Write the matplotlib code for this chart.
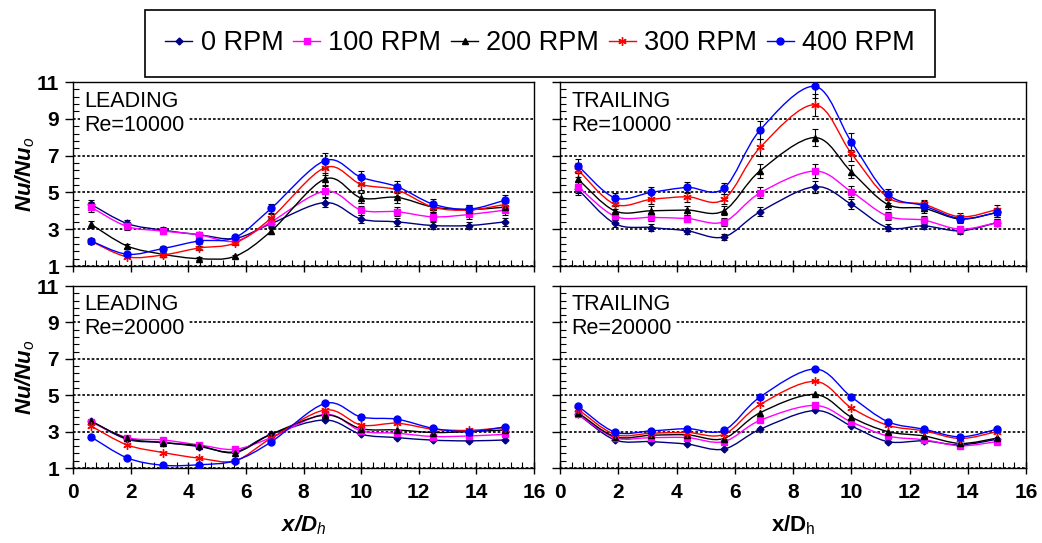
import numpy as np
import matplotlib
matplotlib.use('Agg')
import matplotlib.pyplot as plt
from matplotlib.path import Path
from matplotlib.patches import PathPatch
from matplotlib.lines import Line2D
from matplotlib.ticker import MultipleLocator, FixedLocator

plt.rcParams['font.family'] = ['Liberation Sans', 'DejaVu Sans']
plt.rcParams['mathtext.fontset'] = 'custom'
plt.rcParams['mathtext.rm'] = 'Liberation Sans'
plt.rcParams['mathtext.it'] = 'Liberation Sans:italic'
plt.rcParams['mathtext.bf'] = 'Liberation Sans:bold'

# x/Dh stations
x_dh = [0.625, 1.875, 3.125, 4.375, 5.625, 6.875, 8.75, 10.0, 11.25, 12.5, 13.75, 15.0]
speeds = ['0 RPM', '100 RPM', '200 RPM', '300 RPM', '400 RPM']

# Nu/Nuo, one row per rotation speed (0, 100, 200, 300, 400 RPM)
lead_10k = [
	[4.35, 3.31, 2.95, 2.70, 2.50, 3.30, 4.45, 3.55, 3.40, 3.20, 3.20, 3.40],
	[4.20, 3.15, 2.90, 2.70, 2.35, 3.40, 5.07, 4.04, 3.95, 3.67, 3.80, 4.04],
	[3.27, 2.09, 1.64, 1.40, 1.53, 2.89, 5.73, 4.70, 4.73, 4.20, 4.07, 4.20],
	[2.35, 1.50, 1.60, 1.98, 2.25, 3.60, 6.35, 5.44, 5.13, 4.20, 4.04, 4.35],
	[2.36, 1.64, 1.95, 2.36, 2.55, 4.13, 6.73, 5.82, 5.31, 4.36, 4.09, 4.58],
]
trail_10k = [
	[5.16, 3.31, 3.09, 2.91, 2.58, 3.95, 5.31, 4.36, 3.09, 3.18, 2.91, 3.36],
	[5.31, 3.71, 3.64, 3.58, 3.40, 4.98, 6.16, 5.04, 3.71, 3.49, 3.00, 3.36],
	[5.71, 4.00, 4.00, 4.04, 4.00, 6.18, 7.98, 6.13, 4.35, 4.13, 3.55, 3.91],
	[6.22, 4.36, 4.62, 4.76, 4.62, 7.45, 9.76, 7.13, 4.73, 4.35, 3.67, 4.07],
	[6.44, 4.71, 5.00, 5.27, 5.22, 8.40, 10.76, 7.76, 4.91, 4.27, 3.58, 3.91],
]
lead_20k = [
	[3.58, 2.58, 2.40, 2.18, 1.89, 2.85, 3.64, 2.85, 2.67, 2.53, 2.49, 2.54],
	[3.53, 2.67, 2.54, 2.27, 2.03, 2.67, 3.95, 3.04, 2.91, 2.73, 2.76, 2.85],
	[3.58, 2.63, 2.40, 2.22, 1.85, 2.85, 3.91, 3.16, 3.09, 2.95, 3.00, 3.09],
	[3.31, 2.27, 1.85, 1.54, 1.40, 2.63, 4.19, 3.36, 3.46, 3.13, 3.07, 3.22],
	[2.71, 1.56, 1.15, 1.18, 1.40, 2.43, 4.55, 3.80, 3.68, 3.18, 3.00, 3.26],
]
trail_20k = [
	[3.95, 2.55, 2.45, 2.31, 2.04, 3.13, 4.16, 3.31, 2.45, 2.49, 2.27, 2.58],
	[3.95, 2.67, 2.67, 2.67, 2.45, 3.62, 4.44, 3.53, 2.76, 2.55, 2.22, 2.45],
	[4.04, 2.73, 2.80, 2.82, 2.62, 4.04, 5.04, 3.80, 3.00, 2.76, 2.35, 2.64],
	[4.22, 2.85, 2.91, 2.95, 2.85, 4.49, 5.76, 4.31, 3.35, 3.04, 2.62, 3.00],
	[4.40, 2.98, 3.04, 3.16, 3.07, 4.91, 6.44, 4.91, 3.55, 3.13, 2.71, 3.13],
]
# measurement uncertainty shown on the Re=10000 panels
err_frac = 0.06

colors = ['#000080', '#ff00ff', '#000000', '#ff0000', '#0000ff']
markers = ['D', 's', '^', (6, 2, 0), 'o']
msizes = [3.5, 5, 5, 6, 5]

W, H = 1042, 543


def smooth_path(xs, ys):
	""" excel style smoothed line through the points """
	pts = list(zip(xs, ys))
	n = len(pts)
	verts = [pts[0]]
	codes = [Path.MOVETO]
	for i in range(n - 1):
		p0 = pts[max(i - 1, 0)]
		p1 = pts[i]
		p2 = pts[i + 1]
		p3 = pts[min(i + 2, n - 1)]
		c1 = (p1[0] + (p2[0] - p0[0]) / 6, p1[1] + (p2[1] - p0[1]) / 6)
		c2 = (p2[0] - (p3[0] - p1[0]) / 6, p2[1] - (p3[1] - p1[1]) / 6)
		verts += [c1, c2, p2]
		codes += [Path.CURVE4] * 3
	return Path(verts, codes)


def add_panel(fig, box, data, side, re, errbars, bottom_row, left_col):
	l, t, r, b = box
	ax = fig.add_axes([l / W, 1 - b / H, (r - l) / W, (b - t) / H])
	ax.set_xlim(0, 16)
	ax.set_ylim(1, 11)
	ax.set_xticks(range(0, 17, 2))
	ax.set_yticks(range(1, 12, 2))
	ax.xaxis.set_minor_locator(MultipleLocator(0.4))
	ax.yaxis.set_minor_locator(FixedLocator(np.arange(1, 11.01, 0.4)))
	ax.tick_params(axis='x', which='major', direction='inout', length=9, width=1, pad=6)
	ax.tick_params(axis='y', which='major', direction='out', length=6, width=1, pad=4)
	ax.tick_params(which='minor', direction='in', length=4, width=0.8)
	ax.tick_params(labelbottom=bottom_row, labelleft=left_col, labelsize=15)
	for lab in ax.get_xticklabels() + ax.get_yticklabels():
		lab.set_fontweight('bold')
	for sp in ax.spines.values():
		sp.set_linewidth(1.0)
	ax.yaxis.grid(True, which='major', color='black', linestyle=(0, (1.6, 1.2)), linewidth=1.2)

	for k in range(len(speeds)):
		ys = data[k]
		ax.add_patch(PathPatch(smooth_path(x_dh, ys), facecolor='none', edgecolor=colors[k],
			linewidth=1.0, zorder=2))
		if errbars:
			ax.errorbar(x_dh, ys, yerr=[v * err_frac for v in ys], fmt='none', ecolor='black',
				elinewidth=0.8, capsize=2, capthick=0.8, zorder=3)
		ax.plot(x_dh, ys, linestyle='none', marker=markers[k], markersize=msizes[k],
			color=colors[k], markeredgewidth=1.0, zorder=4)

	box_style = dict(facecolor='white', edgecolor='none', pad=3)
	ax.text(0.024, 0.866, side, transform=ax.transAxes, fontsize=15.5, va='baseline', bbox=box_style, zorder=5)
	ax.text(0.024, 0.735, 'Re=' + re, transform=ax.transAxes, fontsize=15.5, va='baseline', bbox=box_style, zorder=5)
	if left_col:
		ax.text(-0.104, 0.5, 'Nu/Nu$_o$', transform=ax.transAxes, rotation=90, ha='center', va='center',
			fontsize=16, fontweight='bold', style='italic')
	if bottom_row:
		if left_col:
			ax.text(0.5, -0.35, 'x/D$_h$', transform=ax.transAxes, ha='center', va='baseline',
				fontsize=16, fontweight='bold', style='italic')
		else:
			ax.text(0.5, -0.35, 'x/D$_\\mathrm{h}$', transform=ax.transAxes, ha='center', va='baseline',
				fontsize=16, fontweight='bold')
	return ax


def main():
	fig = plt.figure(figsize=(W / 100, H / 100), dpi=100)
	add_panel(fig, (73, 82, 534, 266), lead_10k, 'LEADING', '10000', True, False, True)
	add_panel(fig, (560, 82, 1026, 266), trail_10k, 'TRAILING', '10000', True, False, False)
	add_panel(fig, (73, 286, 534, 468), lead_20k, 'LEADING', '20000', False, True, True)
	add_panel(fig, (560, 286, 1026, 468), trail_20k, 'TRAILING', '20000', False, True, False)

	handles = [Line2D([], [], color=colors[k], marker=markers[k], markersize=msizes[k], linewidth=1.0)
		for k in range(len(speeds))]
	leg = fig.legend(handles, speeds, loc='center', ncol=5, mode='expand',
		bbox_to_anchor=(145 / W, 1 - 77 / H, (935 - 145) / W, 67 / H), borderaxespad=0,
		fontsize=19.5, frameon=True, fancybox=False, edgecolor='black', framealpha=1,
		borderpad=0.75, handlelength=1.0, handletextpad=0.3, columnspacing=0.6)
	leg.get_frame().set_linewidth(1.2)
	fig.savefig('out.png', dpi=100)
	plt.close(fig)


main()
